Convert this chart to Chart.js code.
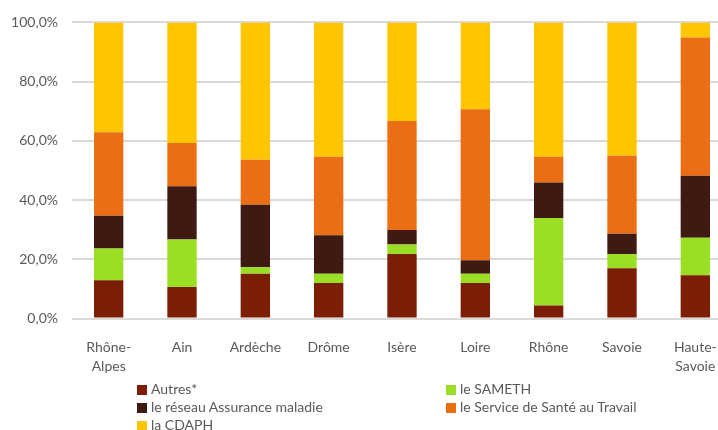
<!DOCTYPE html>
<html lang="fr">
<head>
<meta charset="utf-8">
<script src="https://cdn.jsdelivr.net/npm/chart.js@4"></script>
<style>
	html, body { margin: 0; padding: 0; background: #fff; }
	body { width: 718px; height: 430px; overflow: hidden; position: relative; }
	#wrap { position: absolute; left: 0; top: 0; width: 732px; height: 430px; }
	#legend { position: absolute; left: 0; top: 0; font-family: Lato, sans-serif; font-size: 14px; color: #595959; }
	.item { position: absolute; white-space: nowrap; line-height: 18px; }
	.item span.box { display: inline-block; width: 10px; height: 10px; margin-right: 4px; vertical-align: -1px; }
</style>
</head>
<body>
<div id="wrap"><canvas id="stackChart" width="732" height="430"></canvas></div>
<div id="legend"></div>
<script>
// Departements (axis categories)
var departements = [["Rhône-", "Alpes"], "Ain", "Ardèche", "Drôme", "Isère", "Loire", "Rhône", "Savoie", ["Haute-", "Savoie"]];

// Share of each orientation source, in %
var autres = [12.9, 10.6, 15.1, 12.0, 21.8, 12.0, 4.4, 17.0, 14.6];
var sameth = [10.7, 16.1, 2.2, 3.1, 3.2, 3.1, 29.5, 4.8, 12.7];
var reseauAM = [11.1, 18.0, 21.1, 13.0, 4.9, 4.6, 12.0, 6.8, 20.9];
var sst = [28.2, 14.6, 15.2, 26.5, 36.8, 51.0, 8.7, 26.4, 46.7];
var cdaph = [37.1, 40.7, 46.4, 45.4, 33.3, 29.3, 45.4, 45.0, 5.1];

var yTicks = [0, 20, 40, 60, 80, 100];

Chart.defaults.font.family = "Lato, sans-serif";
Chart.defaults.font.size = 14;
Chart.defaults.color = "#595959";

var series = [
	{ label: "Autres*", data: autres, backgroundColor: "#7C1E04" },
	{ label: "le SAMETH", data: sameth, backgroundColor: "#9ADF23" },
	{ label: "le réseau Assurance maladie", data: reseauAM, backgroundColor: "#3F1A11" },
	{ label: "le Service de Santé au Travail", data: sst, backgroundColor: "#EB6E15" },
	{ label: "la CDAPH", data: cdaph, backgroundColor: "#FFC500" },
];

var ctx = document.getElementById("stackChart");
var myBarChart = new Chart(ctx, {
	type: "bar",
	data: {
		labels: departements,
		datasets: series.map(function (s) {
			return {
				label: s.label,
				data: s.data,
				backgroundColor: s.backgroundColor,
				borderWidth: 0,
				categoryPercentage: 1,
				barPercentage: 0.4,
			};
		}),
	},
	options: {
		responsive: false,
		animation: false,
		layout: { padding: { top: 20, left: 0, right: 0, bottom: 0 } },
		plugins: {
			legend: { display: false },
			tooltip: { enabled: false },
		},
		scales: {
			x: {
				stacked: true,
				grid: { display: false },
				border: { display: false },
				ticks: { padding: 11, maxRotation: 0, autoSkip: false, font: { size: 14, lineHeight: 1.36 } },
				afterFit: function (scale) { scale.height = 111.5; },
			},
			y: {
				stacked: true,
				min: 0,
				max: 100,
				afterBuildTicks: function (scale) {
					scale.ticks = yTicks.map(function (v) { return { value: v }; });
				},
				ticks: {
					padding: 14,
					callback: function (v) { return v.toFixed(1).replace(".", ",") + "%"; },
				},
				grid: { color: "#D9D9D9", lineWidth: 2, drawTicks: false },
				border: { display: false },
				afterFit: function (scale) { scale.width = 72; },
			},
		},
	},
});

// Two-column legend under the axis
var legendPos = [
	[137, 380], [446, 380],
	[137, 398], [446, 398],
	[137, 416],
];
var legend = document.getElementById("legend");
series.forEach(function (s, i) {
	var div = document.createElement("div");
	div.className = "item";
	div.style.left = legendPos[i][0] + "px";
	div.style.top = legendPos[i][1] + "px";
	var box = document.createElement("span");
	box.className = "box";
	box.style.background = s.backgroundColor;
	div.appendChild(box);
	div.appendChild(document.createTextNode(s.label));
	legend.appendChild(div);
});
</script>
</body>
</html>
